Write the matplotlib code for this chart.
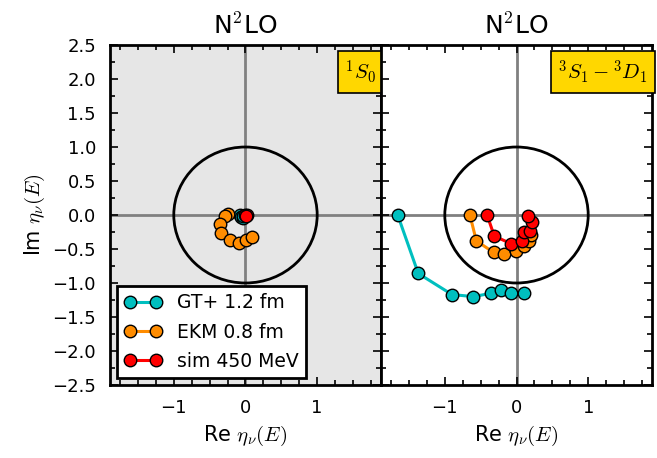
import numpy as np
import matplotlib
matplotlib.use("Agg")
import matplotlib.pyplot as plt
from matplotlib.patches import Circle
from matplotlib.ticker import MultipleLocator

plt.rcParams['mathtext.fontset'] = 'cm'
plt.rcParams['font.family'] = 'DejaVu Sans'

# eigenvalues of the Weinberg kernel, 1S0 channel
gt_1s0_re = [-0.07, -0.06, -0.04, -0.03]
gt_1s0_im = [0.0, -0.03, -0.05, -0.02]
ekm_1s0_re = [-0.245, -0.29, -0.36, -0.34, -0.22, -0.09, 0.01, 0.09]
ekm_1s0_im = [0.015, -0.015, -0.13, -0.27, -0.37, -0.41, -0.37, -0.32]
sim_1s0_re = [0.0, 0.02, 0.01]
sim_1s0_im = [0.0, 0.0, -0.01]

# 3S1-3D1 channel
gt_3s1_re = [-1.657, -1.37, -0.90, -0.60, -0.35, -0.21, -0.08, 0.10]
gt_3s1_im = [0.0, -0.86, -1.17, -1.20, -1.15, -1.11, -1.14, -1.15]
ekm_3s1_re = [-0.65, -0.56, -0.32, -0.17, -0.005, 0.10, 0.17, 0.20]
ekm_3s1_im = [0.0, -0.38, -0.55, -0.57, -0.53, -0.45, -0.38, -0.30]
sim_3s1_re = [-0.41, -0.31, -0.08, 0.07, 0.10, 0.19, 0.22, 0.16]
sim_3s1_im = [0.0, -0.31, -0.42, -0.38, -0.25, -0.23, -0.10, -0.01]

labels = ["GT+ 1.2 fm", "EKM 0.8 fm", "sim 450 MeV"]
colors = [(0, 0.75, 0.75), 'darkorange', 'red']

fig, axes = plt.subplots(1, 2, figsize=(6.57, 4.58), dpi=100)
fig.subplots_adjust(left=0.1674, right=0.9924, top=0.9017, bottom=0.1594, wspace=0)

channels = [
    ([gt_1s0_re, ekm_1s0_re, sim_1s0_re], [gt_1s0_im, ekm_1s0_im, sim_1s0_im], r'$^1S_0$'),
    ([gt_3s1_re, ekm_3s1_re, sim_3s1_re], [gt_3s1_im, ekm_3s1_im, sim_3s1_im], r'$^3S_1-^3D_1$'),
]

for i, (ax, (res, ims, chan)) in enumerate(zip(axes, channels)):
    if i == 0:
        ax.set_facecolor((0.9, 0.9, 0.9))
    ax.axhline(0, color='gray', lw=2, zorder=1)
    ax.axvline(0, color='gray', lw=2, zorder=1)
    ax.add_patch(Circle((0, 0), 1, fill=False, ec='k', lw=2, zorder=2))
    for re, im, lab, c in zip(res, ims, labels, colors):
        ax.plot(re, im, '-o', color=c, mfc=c, mec='k', mew=1, ms=9, lw=2.2,
                label=lab, zorder=3)
    ax.set_xlim(-1.89, 1.89)
    ax.set_ylim(-2.5, 2.5)
    ax.xaxis.set_major_locator(MultipleLocator(1))
    ax.xaxis.set_minor_locator(MultipleLocator(0.25))
    ax.yaxis.set_major_locator(MultipleLocator(0.5))
    ax.yaxis.set_minor_locator(MultipleLocator(0.25))
    ax.tick_params(which='both', direction='in', top=True, right=True, width=1.2)
    ax.tick_params(which='major', length=6, pad=10, labelsize=13)
    ax.tick_params(which='minor', length=3.5)
    for sp in ax.spines.values():
        sp.set_linewidth(2)
    ax.set_title(r'N$^2$LO', fontsize=18, pad=8)
    ax.set_xlabel(r'Re $\eta_\nu(E)$', fontsize=15, labelpad=5)
    ax.text(0.983, 0.962, chan, transform=ax.transAxes, ha='right', va='top',
            fontsize=15, zorder=5,
            bbox=dict(boxstyle='square,pad=0.35', fc='gold', ec='k', lw=1.2))

axes[0].set_ylabel(r'Im $\eta_\nu(E)$', fontsize=15, labelpad=4)
axes[1].tick_params(axis='y', labelleft=False)

leg = axes[0].legend(loc='lower left', numpoints=2, fontsize=13.5, fancybox=False,
                     framealpha=1, edgecolor='k', borderaxespad=0.35,
                     handlelength=2.0, handletextpad=0.8, labelspacing=0.55)
leg.get_frame().set_linewidth(2)

fig.savefig('out.png', dpi=100)
